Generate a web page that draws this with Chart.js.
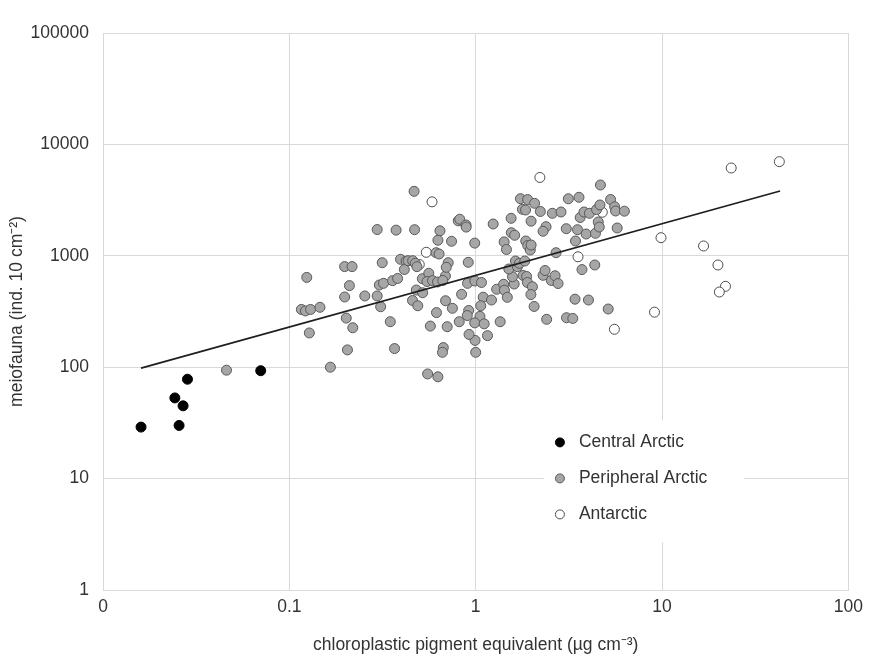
<!DOCTYPE html>
<html>
<head>
<meta charset="utf-8">
<script src="https://cdn.jsdelivr.net/npm/chart.js@4.4.1/dist/chart.umd.min.js"></script>
<style>
  html, body { margin: 0; padding: 0; background: #fff; }
</style>
</head>
<body>
<canvas id="meioChart" width="870" height="662"></canvas>
<script>
// values: [pigment (ug cm-3), meiofauna (ind. 10 cm-2)]
const centralArctic = [
  [0.016, 29], [0.0256, 30], [0.0243, 53], [0.0269, 45], [0.0284, 78], [0.0702, 93]
];

const peripheralArctic = [
  [0.046, 94], [0.124, 640], [0.116, 330], [0.122, 320], [0.130, 330], [0.146, 345],
  [0.128, 203], [0.166, 100], [0.198, 800], [0.217, 800], [0.210, 540], [0.198, 427],
  [0.202, 276], [0.219, 226], [0.205, 143], [0.254, 436], [0.296, 1720], [0.296, 436],
  [0.315, 867], [0.304, 547], [0.320, 566], [0.309, 349], [0.348, 256], [0.358, 598],
  [0.381, 626], [0.367, 147], [0.374, 1700], [0.395, 930], [0.423, 894], [0.414, 753],
  [0.434, 904], [0.459, 904], [0.474, 856], [0.484, 799], [0.467, 3790], [0.470, 1715],
  [0.480, 493], [0.519, 466], [0.458, 397], [0.489, 356], [0.517, 623], [0.560, 697],
  [0.548, 588], [0.587, 598], [0.624, 582], [0.688, 659], [0.571, 234], [0.552, 87],
  [0.627, 82], [0.616, 309], [0.643, 1676], [0.627, 1380], [0.742, 1350], [0.613, 1066],
  [0.636, 1038], [0.712, 867], [0.695, 788], [0.689, 395], [0.750, 338], [0.703, 231],
  [0.670, 150], [0.663, 136], [0.806, 2060], [0.821, 2130], [0.887, 1890], [0.889, 1810],
  [0.912, 874], [0.840, 451], [0.816, 256], [0.917, 323], [0.901, 291], [0.904, 566],
  [0.988, 1300], [0.990, 594], [1.074, 576], [1.097, 425], [1.064, 356], [1.054, 286],
  [0.988, 250], [1.110, 245], [1.157, 192], [0.992, 174], [1.0, 136], [1.215, 401],
  [1.296, 501], [1.241, 1930], [1.353, 256], [1.412, 555], [1.426, 491], [1.421, 1333],
  [1.462, 1139], [1.478, 424], [1.549, 2170], [1.553, 1612], [1.618, 1528], [1.608, 558],
  [1.575, 649], [1.506, 761], [1.674, 799], [1.634, 898], [1.716, 856], [1.834, 898],
  [1.738, 3255], [1.899, 3200], [2.070, 2960], [1.781, 2615], [1.852, 2577], [2.223, 2500],
  [1.983, 2045], [1.857, 1358], [1.903, 1237], [1.963, 1127], [1.983, 1250], [1.797, 666],
  [1.876, 652], [1.894, 576], [2.015, 527], [1.978, 449], [2.058, 351], [2.299, 668],
  [2.356, 738], [2.385, 1825], [2.299, 1660], [2.578, 2407], [2.870, 2473], [2.547, 600],
  [2.666, 662], [2.766, 564], [2.699, 1066], [2.403, 269], [3.063, 1751], [3.071, 278],
  [3.319, 274], [3.141, 3249], [3.583, 3351], [3.432, 1358], [3.518, 1715], [3.637, 2207],
  [3.811, 2473], [4.077, 2407], [3.915, 1569], [4.392, 1592], [3.718, 752], [4.354, 827],
  [3.411, 408], [4.028, 401], [4.452, 2599], [4.642, 2858], [4.546, 2012], [4.603, 1813],
  [4.670, 4322], [5.296, 3202], [5.570, 2754], [5.632, 2525], [6.281, 2515], [5.745, 1776],
  [5.141, 333], [0.921, 197], [0.666, 600]
];

const antarctic = [
  [0.583, 3050], [0.543, 1075], [0.498, 835], [2.21, 5050], [3.54, 980], [4.78, 2460],
  [5.55, 219], [9.11, 312], [9.87, 1454], [16.7, 1225], [19.95, 827], [21.9, 532],
  [20.3, 473], [23.5, 6140], [42.6, 7000]
];

// power-law fit, drawn between its two ends
const fitLine = [[0.016, 98], [43, 3820]];

const xTickValues = [0.01, 0.1, 1, 10, 100];
const xTickLabels = ['0', '0.1', '1', '10', '100'];
const yTickValues = [1, 10, 100, 1000, 10000, 100000];
const yTickLabels = ['1', '10', '100', '1000', '10000', '100000'];

const toPoints = arr => arr.map(p => ({ x: p[0], y: p[1] }));

Chart.defaults.font.family = '"Liberation Sans", Arial, sans-serif';
Chart.defaults.color = '#333';

// legend drawn inside the plot on a white patch
const insideLegend = {
  id: 'insideLegend',
  afterDatasetsDraw(chart) {
    const ctx = chart.ctx;
    const area = chart.chartArea;
    const x0 = area.left + (area.right - area.left) * 0.613;
    const y0 = area.top + (area.bottom - area.top) * 0.735;
    ctx.save();
    ctx.fillStyle = '#fff';
    ctx.fillRect(x0 - 16, y0 - 22, 200, 122);
    ctx.font = '17.5px "Liberation Sans", Arial, sans-serif';
    ctx.textBaseline = 'middle';
    chart.data.datasets.filter(d => d.inLegend).forEach((d, i) => {
      const y = y0 + i * 36;
      ctx.beginPath();
      ctx.arc(x0, y, 4.5, 0, Math.PI * 2);
      ctx.fillStyle = d.backgroundColor;
      ctx.fill();
      ctx.lineWidth = 1;
      ctx.strokeStyle = d.borderColor;
      ctx.stroke();
      ctx.fillStyle = '#333';
      ctx.fillText(d.label, x0 + 19, y);
    });
    ctx.restore();
  }
};

const ctx = document.getElementById('meioChart').getContext('2d');
const meioChart = new Chart(ctx, {
  type: 'scatter',
  data: {
    datasets: [
      {
        type: 'line',
        label: 'fit',
        data: toPoints(fitLine),
        borderColor: '#1e1e1e',
        borderWidth: 1.7,
        pointRadius: 0,
        order: 0
      },
      {
        label: 'Central Arctic',
        data: toPoints(centralArctic),
        backgroundColor: '#000',
        borderColor: '#000',
        inLegend: true,
        order: 1
      },
      {
        label: 'Peripheral Arctic',
        data: toPoints(peripheralArctic),
        backgroundColor: '#a6a6a6',
        borderColor: '#595959',
        inLegend: true,
        order: 1
      },
      {
        label: 'Antarctic',
        data: toPoints(antarctic),
        backgroundColor: '#fff',
        borderColor: '#4d4d4d',
        inLegend: true,
        order: 1
      }
    ]
  },
  options: {
    responsive: false,
    animation: false,
    devicePixelRatio: 1,
    elements: { point: { radius: 5, borderWidth: 1, hoverRadius: 5 } },
    layout: { padding: { left: 0, right: 20, top: 33, bottom: 0 } },
    plugins: { legend: { display: false }, tooltip: { enabled: false } },
    scales: {
      x: {
        type: 'logarithmic',
        min: 0.01,
        max: 100,
        afterBuildTicks: s => { s.ticks = xTickValues.map(v => ({ value: v })); },
        afterFit: s => { s.height = 72; },
        ticks: {
          padding: 7,
          font: { size: 17.5 },
          maxRotation: 0,
          callback: (v, i) => xTickLabels[i]
        },
        grid: { color: '#d9d9d9', drawTicks: false },
        border: { color: '#d9d9d9' },
        title: {
          display: true,
          text: 'chloroplastic pigment equivalent (µg cm⁻³)',
          font: { size: 17.5 },
          padding: { top: 0, bottom: 6 }
        }
      },
      y: {
        type: 'logarithmic',
        min: 1,
        max: 100000,
        afterBuildTicks: s => { s.ticks = yTickValues.map(v => ({ value: v })); },
        afterFit: s => { s.width = 103; },
        ticks: {
          padding: 14,
          font: { size: 17.5 },
          callback: (v, i) => yTickLabels[i]
        },
        grid: { color: '#d9d9d9', drawTicks: false },
        border: { color: '#d9d9d9' },
        title: {
          display: true,
          text: 'meiofauna (ind. 10 cm⁻²)',
          font: { size: 17.5 },
          padding: { top: 7, bottom: 0 }
        }
      }
    }
  },
  plugins: [insideLegend]
});
</script>
</body>
</html>
